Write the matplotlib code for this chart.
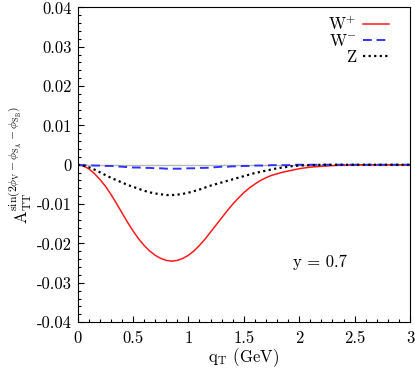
#! /usr/bin/env python3

## Libraries
import matplotlib
matplotlib.use("Agg")
import matplotlib.pyplot as plt
from matplotlib.ticker import MultipleLocator, FuncFormatter

plt.rcParams['font.family'] = 'cmr10'
plt.rcParams['mathtext.fontset'] = 'cm'
plt.rcParams['axes.formatter.use_mathtext'] = True

#-----------------------------------------------------------------------
## Data
qT = [0.00, 0.05, 0.10, 0.15, 0.20, 0.25, 0.30, 0.35, 0.40, 0.45,
      0.50, 0.55, 0.60, 0.65, 0.70, 0.75, 0.80, 0.85, 0.90, 0.95,
      1.00, 1.05, 1.10, 1.15, 1.20, 1.25, 1.30, 1.35, 1.40, 1.45,
      1.50, 1.55, 1.60, 1.65, 1.70, 1.75, 1.80, 1.85, 1.90, 1.95,
      2.0, 2.1, 2.2, 2.3, 2.4, 2.5, 2.6, 2.7, 2.8, 2.9, 3.0]

a_wplus = [0.0, -0.0003, -0.0010, -0.0022, -0.0037, -0.0054, -0.0075, -0.0098, -0.0122, -0.0146,
           -0.0168, -0.0188, -0.0205, -0.0219, -0.0230, -0.0238, -0.0243, -0.0245, -0.0243, -0.0238,
           -0.0230, -0.0219, -0.0205, -0.0189, -0.0171, -0.0153, -0.0135, -0.0117, -0.0100, -0.0085,
           -0.0071, -0.0059, -0.0049, -0.0040, -0.0033, -0.0027, -0.0023, -0.0019, -0.0016, -0.0013,
           -0.0010, -0.0006, -0.0004, -0.0002, -0.0001, 0.0, 0.0, 0.0, 0.0, 0.0, 0.0]

a_wminus = [0.0, -0.0001, -0.0001, -0.0002, -0.0002, -0.0003, -0.0003, -0.0004, -0.0005, -0.0006,
            -0.0007, -0.0007, -0.0008, -0.0008, -0.0009, -0.0009, -0.0010, -0.0010, -0.0010, -0.0010,
            -0.0009, -0.0009, -0.0008, -0.0008, -0.0007, -0.0006, -0.0005, -0.0005, -0.0004, -0.0004,
            -0.0003, -0.0003, -0.0002, -0.0002, -0.0002, -0.0001, -0.0001, -0.0001, -0.0001, 0.0,
            0.0, 0.0, 0.0, 0.0, 0.0, 0.0, 0.0, 0.0, 0.0, 0.0, 0.0]

a_z = [0.0, -0.0002, -0.0006, -0.0012, -0.0019, -0.0026, -0.0033, -0.0039, -0.0045, -0.0051,
       -0.0056, -0.0061, -0.0066, -0.0070, -0.0073, -0.0075, -0.0077, -0.0077, -0.0076, -0.0074,
       -0.0071, -0.0067, -0.0063, -0.0058, -0.0053, -0.0049, -0.0045, -0.0041, -0.0037, -0.0033,
       -0.0029, -0.0025, -0.0021, -0.0018, -0.0015, -0.0012, -0.0009, -0.0007, -0.0005, -0.0003,
       -0.0002, -0.0001, 0.0, 0.0, 0.0, 0.0, 0.0, 0.0, 0.0, 0.0, 0.0]

#-----------------------------------------------------------------------
## Plot
fig = plt.figure(figsize=(4.15, 3.69), dpi=100)
ax = fig.add_axes([0.187, 0.127, 0.801, 0.853])

ax.axhline(0, color='#b8b8b8', lw=1.0, zorder=1)
ax.plot(qT, a_wplus, color='#ff1a1a', lw=1.1, label=r'W$^{+}$')
ax.plot(qT, a_wminus, color='#3333ff', lw=1.4, dashes=(4.5, 2.5), label=r'W$^{-}$')
ax.plot(qT, a_z, color='black', lw=1.6, dashes=(1, 1.5), label='Z')

ax.set_xlim(0, 3)
ax.set_ylim(-0.04, 0.04)
ax.xaxis.set_major_locator(MultipleLocator(0.5))
ax.xaxis.set_minor_locator(MultipleLocator(0.1))
ax.yaxis.set_major_locator(MultipleLocator(0.01))
ax.yaxis.set_minor_locator(MultipleLocator(0.002))

fmt = FuncFormatter(lambda v, p: '0' if abs(v) < 1e-9 else '%g' % v)
ax.xaxis.set_major_formatter(fmt)
ax.yaxis.set_major_formatter(fmt)

ax.tick_params(which='both', direction='in', top=False, right=False, labelsize=12)
ax.tick_params(which='major', length=4, width=0.8)
ax.tick_params(which='minor', length=2.2, width=0.8)
ax.tick_params(axis='x', pad=6)
ax.tick_params(axis='y', pad=4)

ax.set_xlabel(r'$\mathrm{q_T}$ (GeV)', fontsize=12, labelpad=0)
ax.set_ylabel(r'$\mathrm{A}_{\mathrm{TT}}^{\sin(2\phi_{\mathrm{V}}-\phi_{\mathrm{S_A}}-\phi_{\mathrm{S_B}})}$',
              fontsize=12, labelpad=2)

ax.text(2.19, -0.0249, 'y = 0.7', fontsize=12, ha='center', va='center')

ax.legend(loc='upper right', bbox_to_anchor=(0.937, 0.975), frameon=False, markerfirst=False,
          fontsize=12, handlelength=1.55, labelspacing=0.0, borderpad=0, borderaxespad=0,
          handletextpad=0.4)

fig.savefig("out.png", dpi=100)
